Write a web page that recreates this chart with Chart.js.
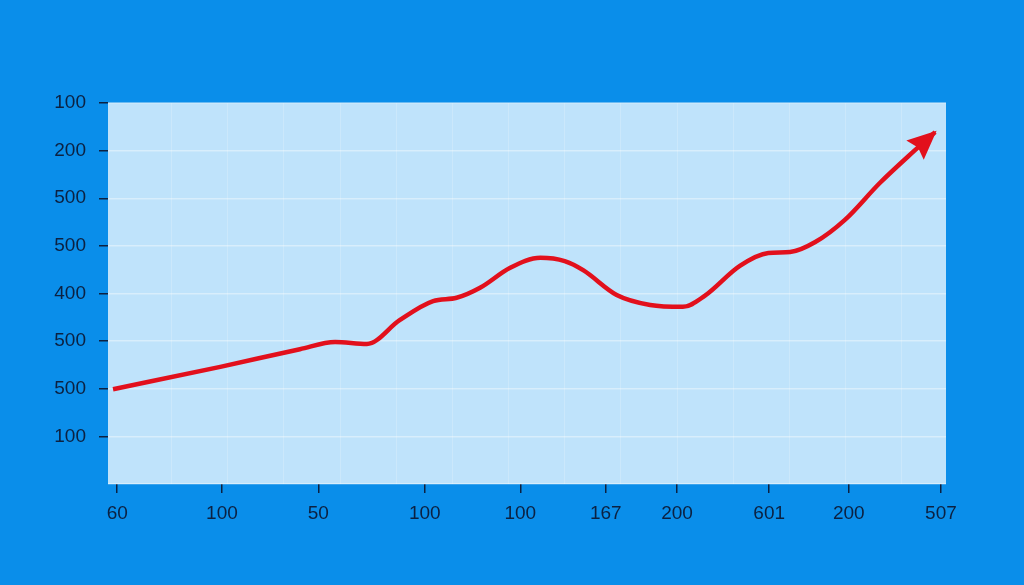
<!DOCTYPE html>
<html>
<head>
<meta charset="utf-8">
<script src="https://cdn.jsdelivr.net/npm/chart.js@4/dist/chart.umd.min.js"></script>
<style>
  html, body { margin: 0; padding: 0; background: #0a8eea; }
  #wrap { width: 1024px; height: 585px; position: relative; }
</style>
</head>
<body>
<div id="wrap"><canvas id="trendChart"></canvas></div>
<script>
// axis labels as printed on the picture
const xTickLabels = ['60', '100', '50', '100', '100', '167', '200', '601', '200', '507'];
const xTickPos = [1.1, 13.6, 25.1, 37.8, 49.2, 59.4, 67.9, 78.9, 88.4, 99.4];
const yTickLabels = ['', '100', '500', '500', '400', '500', '500', '200', '100']; // value 0..8

// the red curve
const xValues = [0.6, 13.4, 22.9, 27.1, 30.9, 34.8, 38.8, 41.6, 44.4, 48.0, 51.6, 54.5, 56.7,
                 60.7, 64.7, 68.6, 71.2, 75.4, 78.8, 81.4, 84.4, 87.9, 92.1, 96.3, 98.7];
const yValues = [1.99, 2.46, 2.83, 2.98, 2.94, 3.44, 3.84, 3.91, 4.12, 4.54, 4.75, 4.68, 4.49,
                 3.97, 3.76, 3.72, 3.95, 4.58, 4.85, 4.87, 5.08, 5.54, 6.32, 7.01, 7.39];

const gridLines = [7.6, 14.3, 21.0, 27.7, 34.4, 41.1, 47.8, 54.5, 61.2, 67.9, 74.6, 81.3, 88.0, 94.7];

const labelColor = '#0c2141';
const lineRed = '#e2101c';

const plotBg = {
    id: 'plotBg',
    beforeDraw(chart) {
        const { ctx, chartArea: a } = chart;
        ctx.save();
        ctx.fillStyle = '#bfe3fb';
        ctx.fillRect(a.left, a.top, a.right - a.left, a.bottom - a.top);
        ctx.restore();
    }
};

const arrowHead = {
    id: 'arrowHead',
    afterDatasetsDraw(chart) {
        const pts = chart.getDatasetMeta(0).data;
        const p1 = pts[pts.length - 2], p2 = pts[pts.length - 1];
        const ang = Math.atan2(p2.y - p1.y, p2.x - p1.x);
        const len = 27, half = 13;
        const ctx = chart.ctx;
        ctx.save();
        ctx.translate(p2.x, p2.y);
        ctx.rotate(ang);
        ctx.beginPath();
        ctx.moveTo(2, 0);
        ctx.lineTo(-len, -half);
        ctx.lineTo(-len + 4, 0);
        ctx.lineTo(-len, half);
        ctx.closePath();
        ctx.fillStyle = lineRed;
        ctx.fill();
        ctx.restore();
    }
};

new Chart(document.getElementById('trendChart'), {
    type: 'line',
    data: {
        datasets: [{
            data: xValues.map((x, i) => ({ x: x, y: yValues[i] })),
            borderColor: lineRed,
            borderWidth: 4.5,
            pointRadius: 0,
            cubicInterpolationMode: 'monotone',
            fill: false,
        }]
    },
    plugins: [plotBg, arrowHead],
    options: {
        responsive: true,
        maintainAspectRatio: false,
        animation: false,
        layout: {
            padding: { top: 103, right: 78, left: 0, bottom: 0 }
        },
        plugins: {
            legend: { display: false },
            tooltip: { enabled: false },
        },
        scales: {
            x: {
                type: 'linear',
                min: 0,
                max: 100,
                afterBuildTicks: (scale) => {
                    scale.ticks = xTickPos.map(v => ({ value: v }));
                },
                afterFit: (scale) => { scale.height = 101; },
                ticks: {
                    autoSkip: false,
                    maxRotation: 0,
                    padding: 9,
                    color: labelColor,
                    font: { family: 'Liberation Sans', size: 19 },
                    callback: (v, i) => xTickLabels[i],
                },
                grid: {
                    drawOnChartArea: false,
                    drawTicks: true,
                    tickLength: 9,
                    color: labelColor,
                    lineWidth: 1.5,
                },
                border: { display: false },
            },
            xg: {
                type: 'linear',
                position: 'bottom',
                min: 0,
                max: 100,
                afterBuildTicks: (scale) => {
                    scale.ticks = gridLines.map(v => ({ value: v }));
                },
                afterFit: (scale) => { scale.height = 0; },
                ticks: { display: false },
                grid: {
                    drawTicks: false,
                    color: 'rgba(255,255,255,0.2)',
                    lineWidth: 1,
                },
                border: { display: false },
            },
            y: {
                min: 0,
                max: 8,
                afterFit: (scale) => { scale.width = 108; },
                ticks: {
                    stepSize: 1,
                    padding: 13,
                    color: labelColor,
                    font: { family: 'Liberation Sans', size: 19 },
                    callback: (v) => yTickLabels[v],
                },
                grid: {
                    color: 'rgba(255,255,255,0.4)',
                    lineWidth: 1.5,
                    tickLength: 9,
                    tickColor: (c) => c.tick && c.tick.value === 0 ? 'rgba(0,0,0,0)' : labelColor,
                },
                border: { display: false },
            }
        }
    }
});
</script>
</body>
</html>
